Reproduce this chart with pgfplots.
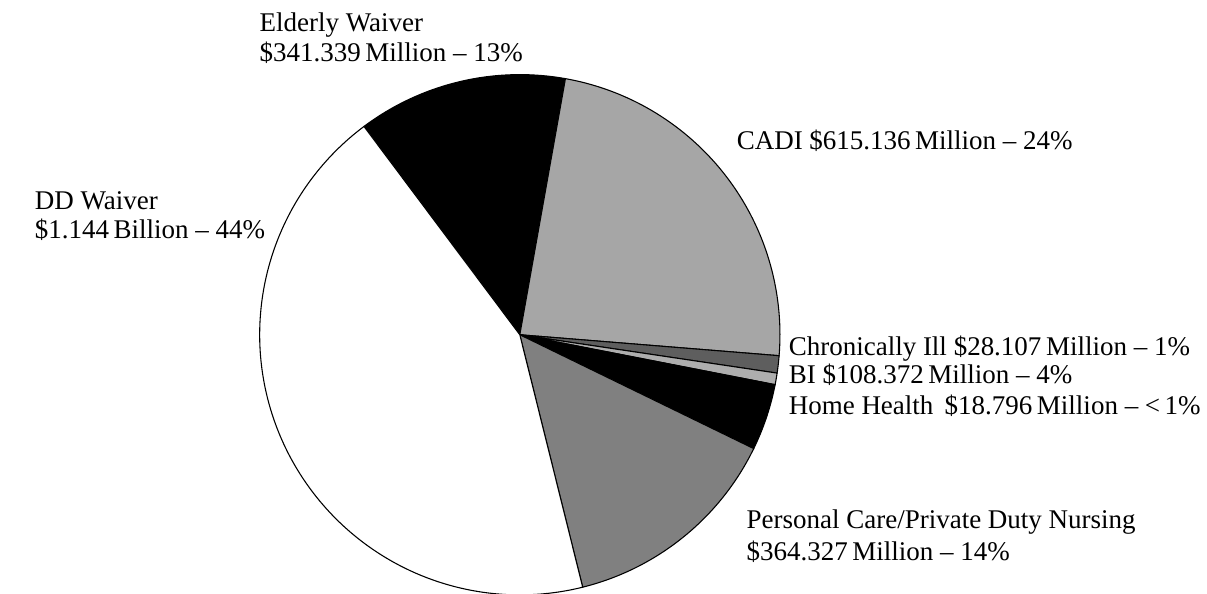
\documentclass[border=0pt]{standalone}
\usepackage{pgfplots}
\pgfplotsset{compat=1.18}
\usepackage{pgfplotstable}
\usepackage{fontspec}
\setmainfont{Liberation Serif}
\definecolor{cadi}{HTML}{A6A6A6}
\definecolor{chron}{HTML}{5E5E5E}
\definecolor{hh}{HTML}{AEAEAE}
\definecolor{pca}{HTML}{808080}

\pgfplotstableread{
label value
Elderly 341.339
CADI 615.136
Chronic 28.107
HomeHealth 18.796
BI 108.372
PCA 364.327
DD 1144
}\piedata

\begin{document}
\pgfplotstablegetelem{0}{value}\of\piedata \let\vA\pgfplotsretval
\pgfplotstablegetelem{1}{value}\of\piedata \let\vB\pgfplotsretval
\pgfplotstablegetelem{2}{value}\of\piedata \let\vC\pgfplotsretval
\pgfplotstablegetelem{3}{value}\of\piedata \let\vD\pgfplotsretval
\pgfplotstablegetelem{4}{value}\of\piedata \let\vE\pgfplotsretval
\pgfplotstablegetelem{5}{value}\of\piedata \let\vF\pgfplotsretval
\pgfplotstablegetelem{6}{value}\of\piedata \let\vG\pgfplotsretval
\pgfmathsetmacro\T{\vA+\vB+\vC+\vD+\vE+\vF+\vG}
\pgfmathsetmacro\aA{126.8}
\pgfmathsetmacro\aB{\aA-360*(\vA/\T)}
\pgfmathsetmacro\aC{\aB-360*(\vB/\T)}
\pgfmathsetmacro\aD{\aC-360*(\vC/\T)}
\pgfmathsetmacro\aE{\aD-360*(\vD/\T)}
\pgfmathsetmacro\aF{\aE-360*(\vE/\T)}
\pgfmathsetmacro\aG{\aF-360*(\vF/\T)}
\pgfmathsetmacro\aH{\aG-360*(\vG/\T)}
\begin{tikzpicture}
\useasboundingbox (0pt,0pt) rectangle (1207pt,605pt);
\begin{axis}[
  at={(0pt,0pt)}, anchor=south west,
  hide axis, scale only axis,
  width=1207pt, height=605pt,
  xmin=0, xmax=1207, ymin=0, ymax=605,
  clip=true,
]
\addplot[fill=black, draw=black, line width=1.1pt, domain=\aB:\aA, samples=60, variable=\t] ({507+265*cos(\t)},{264+265*sin(\t)}) -- (axis cs:507,264) -- cycle;
\addplot[fill=cadi, draw=black, line width=1.1pt, domain=\aC:\aB, samples=90, variable=\t] ({507+265*cos(\t)},{264+265*sin(\t)}) -- (axis cs:507,264) -- cycle;
\addplot[fill=chron, draw=black, line width=1.1pt, domain=\aD:\aC, samples=10, variable=\t] ({507+265*cos(\t)},{264+265*sin(\t)}) -- (axis cs:507,264) -- cycle;
\addplot[fill=hh, draw=black, line width=1.1pt, domain=\aE:\aD, samples=10, variable=\t] ({507+265*cos(\t)},{264+265*sin(\t)}) -- (axis cs:507,264) -- cycle;
\addplot[fill=black, draw=black, line width=1.1pt, domain=\aF:\aE, samples=20, variable=\t] ({507+265*cos(\t)},{264+265*sin(\t)}) -- (axis cs:507,264) -- cycle;
\addplot[fill=pca, draw=black, line width=1.1pt, domain=\aG:\aF, samples=60, variable=\t] ({507+265*cos(\t)},{264+265*sin(\t)}) -- (axis cs:507,264) -- cycle;
\addplot[fill=white, draw=black, line width=1.1pt, domain=\aH:\aG, samples=150, variable=\t] ({507+265*cos(\t)},{264+265*sin(\t)}) -- (axis cs:507,264) -- cycle;
\end{axis}
\begin{scope}[every node/.style={anchor=base west, inner sep=0pt, outer sep=0pt, font=\fontsize{27.5}{32}\selectfont}]
\node at (242pt,{605pt-32pt}) {Elderly Waiver};
\node at (242pt,{605pt-63pt}) {\$341.339\,Million – 13\%};
\node at (728pt,{605pt-152pt}) {CADI \$615.136\,Million – 24\%};
\node at (13pt,{605pt-213pt}) {DD Waiver};
\node at (13pt,{605pt-243pt}) {\$1.144\,Billion – 44\%};
\node at (781pt,{605pt-362pt}) {Chronically Ill \$28.107\,Million – 1\%};
\node at (781pt,{605pt-391pt}) {BI \$108.372\,Million – 4\%};
\node at (781pt,{605pt-422pt}) {Home Health\ \,\$18.796\,Million – <\,1\%};
\node at (738pt,{605pt-538pt}) {Personal Care/Private Duty Nursing};
\node at (738pt,{605pt-571pt}) {\$364.327\,Million – 14\%};
\end{scope}
\end{tikzpicture}
\end{document}
